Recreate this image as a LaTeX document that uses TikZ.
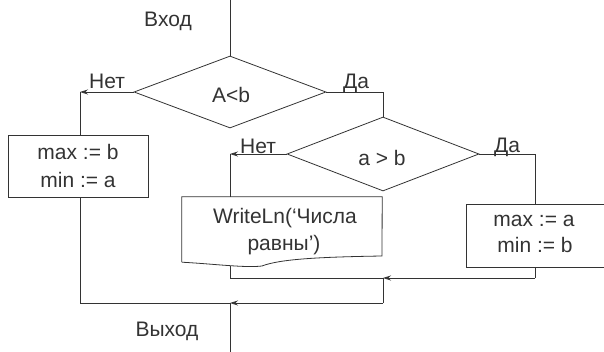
\documentclass[tikz,border=0pt]{standalone}
\usepackage{fontspec}
\setmainfont{Liberation Sans}
\usetikzlibrary{shapes.geometric,arrows.meta}
\definecolor{ink}{HTML}{333333}
\tikzset{
  flow/.style={draw=ink, line width=0.8pt},
  arr/.style={flow, -{Stealth[length=8pt,width=5pt]}},
  dec/.style={diamond, flow, inner sep=0pt, minimum width=192pt},
  proc/.style={rectangle, flow, inner sep=0pt},
  txt/.style={text=ink, font=\fontsize{21}{28}\selectfont, inner sep=0pt, align=center},
}
\begin{document}
\begin{tikzpicture}[x=1pt,y=-1pt]
\clip (0,0) rectangle (604,352);
\useasboundingbox (0,0) rectangle (604,352);
% coordinates
\coordinate (start) at (230,0);
\coordinate (c1) at (80,92);
\coordinate (c2) at (383,92);
\coordinate (c3) at (230,154);
\coordinate (c4) at (535,154);
\coordinate (docb) at (230,266);
\coordinate (docj) at (230,278);
\coordinate (j1) at (383,278);
\coordinate (j1r) at (535,278);
\coordinate (j1d) at (383,303);
\coordinate (j2) at (230,303);
\coordinate (lb) at (80,303);
\coordinate (stop) at (230,352);
% decisions
\node[dec, minimum height=72pt] (d1) at (230,92) {};
\node[txt] (t1) at (231,95) {A<b};
\node[dec, minimum height=74pt] (d2) at (383,154) {};
\node[txt] (t2) at (382,158) {a > b};
% boxes
\node[proc, minimum width=140pt, minimum height=62pt] (box1) at (78,166) {};
\node[txt] (b1a) at (78,152) {max := b};
\node[txt] (b1b) at (78,180) {min := a};
\node[proc, minimum width=140pt, minimum height=63pt] (box2) at (536,235.5) {};
\node[txt] (b2a) at (534,221) {max := a};
\node[txt] (b2b) at (535,245) {min := b};
% document
\node[rectangle, inner sep=0pt, minimum width=200pt, minimum height=65pt] (doc) at (282,229.5) {};
\draw[flow] (doc.south west) -- (doc.north west) -- (doc.north east) -- (382,256)
  .. controls (320,257) and (280,259) .. (262,266)
  .. controls (245,268) and (215,264) .. (doc.south west);
\node[txt] (w1) at (285,218) {WriteLn(‘Числа};
\node[txt] (w2) at (284,245) {равны’)};
% labels
\node[txt] (vhod) at (168,21) {Вход};
\node[txt] (vyhod) at (167,331) {Выход};
\node[txt] (n1) at (107,81) {Нет};
\node[txt] (y1) at (356,83) {Да};
\node[txt] (n2) at (258,146) {Нет};
\node[txt] (y2) at (507,147) {Да};
% connectors
\draw[flow] (start) -- (d1.north);
\draw[arr] (d1.west) -- (c1);
\draw[flow] (c1) -- (c1 |- box1.north);
\draw[flow] (d1.east) -- (c2) -- (d2.north);
\draw[arr] (d2.west) -- (c3);
\draw[flow] (c3) -- (c3 |- doc.north);
\draw[flow] (d2.east) -- (c4) -- (c4 |- box2.north);
\draw[flow] (c4 |- box2.south) -- (j1r);
\draw[arr] (j1r) -- (j1);
\draw[flow] (docb) -- (docj) -- (j1) -- (j1d);
\draw[arr] (j1d) -- (j2);
\draw[flow] (c1 |- box1.south) -- (lb) -- (j2) -- (stop);
\end{tikzpicture}
\end{document}
